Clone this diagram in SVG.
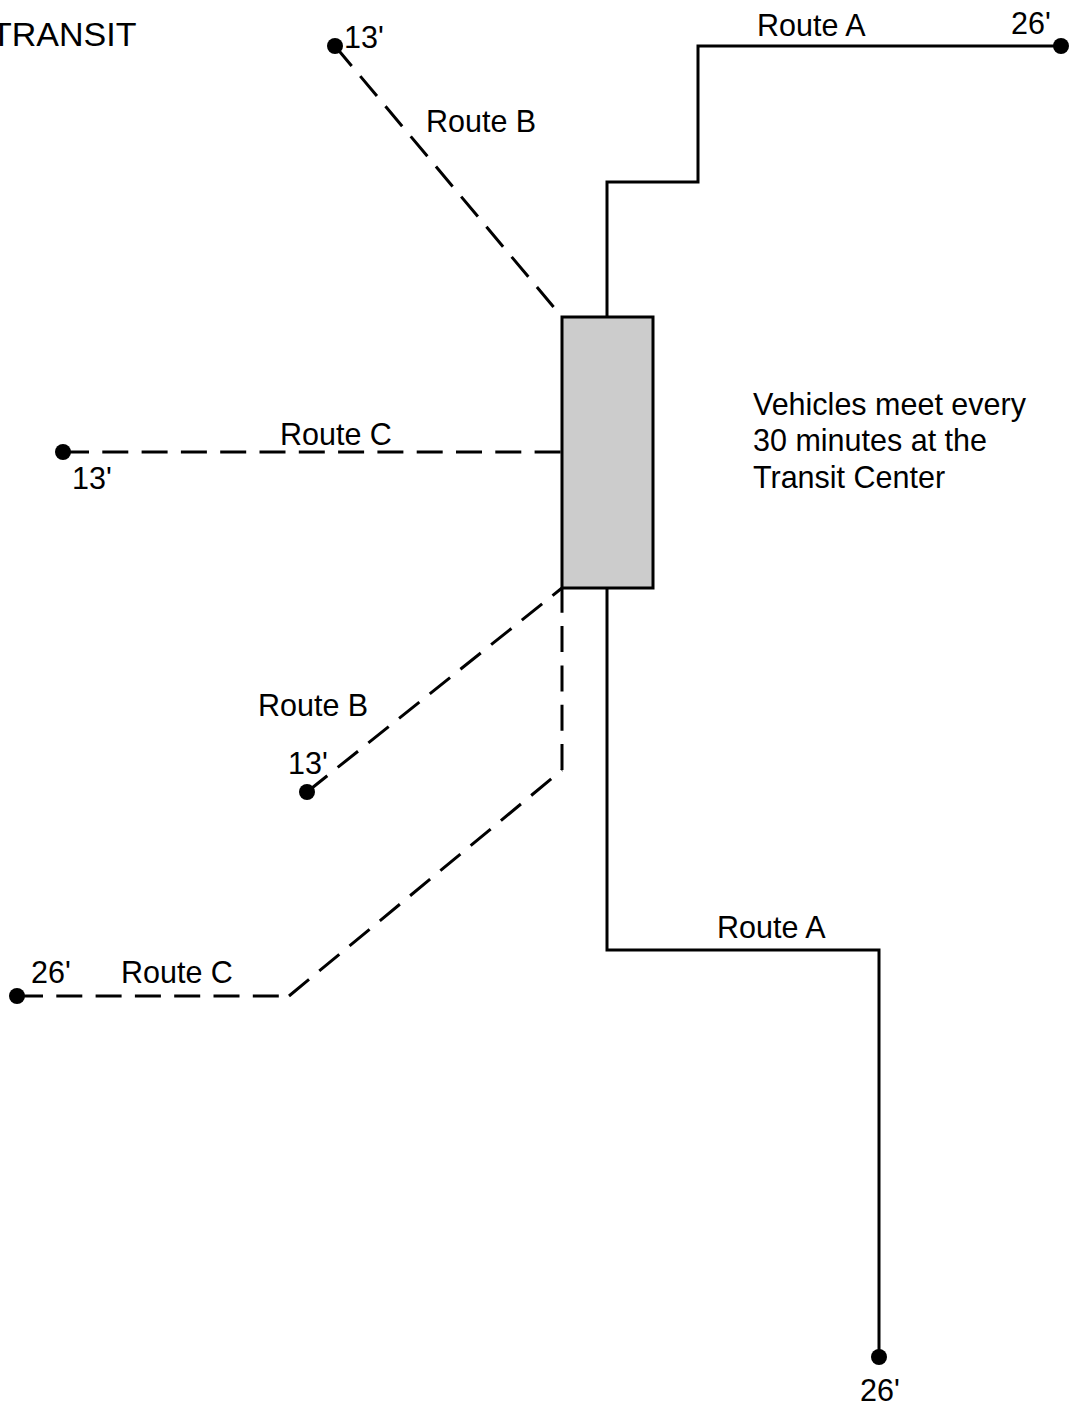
<svg xmlns="http://www.w3.org/2000/svg" width="1076" height="1406" viewBox="0 0 1076 1406">
<style>
.t{font-family:"Liberation Sans",Arial,sans-serif;font-size:30.5px;fill:#000}
.s{fill:none;stroke:#000;stroke-width:3}
.d{fill:none;stroke:#000;stroke-width:3;stroke-dasharray:26 13.3}
.p{fill:#000}
</style>
<rect width="1076" height="1406" fill="#fff"/>
<g id="connectors">
<path class="s" d="M607 317V182H698V46H1061"/>
<path class="s" d="M607 588V950H879V1357"/>
<path class="d" d="M335 46L562 317"/>
<path class="d" d="M63 452H562"/>
<path class="d" d="M307 792L562 588"/>
<path class="d" d="M17 996H289"/>
<path class="d" d="M289 996L562 770"/>
<path class="d" d="M562 770V588"/>
</g>
<g id="transit-center"><rect x="562" y="317" width="91" height="271" fill="#ccc" stroke="#000" stroke-width="3"/></g>
<g id="stop-a-top"><circle class="p" cx="1061" cy="46" r="8"/><text class="t" x="1011" y="34">26'</text></g>
<g id="stop-a-bottom"><circle class="p" cx="879" cy="1357" r="8"/><text class="t" x="860" y="1401">26'</text></g>
<g id="stop-b-top"><circle class="p" cx="335" cy="46" r="8"/><text class="t" x="344" y="48">13'</text></g>
<g id="stop-b-bottom"><circle class="p" cx="307" cy="792" r="8"/><text class="t" x="288" y="774">13'</text></g>
<g id="stop-c-top"><circle class="p" cx="63" cy="452" r="8"/><text class="t" x="72" y="489">13'</text></g>
<g id="stop-c-bottom"><circle class="p" cx="17" cy="996" r="8"/><text class="t" x="31" y="983">26'</text></g>
<g id="labels">
<text class="t" x="-9" y="46" style="font-size:34px">TRANSIT</text>
<text class="t" x="757" y="36">Route A</text>
<text class="t" x="717" y="938">Route A</text>
<text class="t" x="426" y="132">Route B</text>
<text class="t" x="258" y="716">Route B</text>
<text class="t" x="280" y="445">Route C</text>
<text class="t" x="121" y="983">Route C</text>
<text class="t" x="753" y="415">Vehicles meet every</text>
<text class="t" x="753" y="451">30 minutes at the</text>
<text class="t" x="753" y="488">Transit Center</text>
</g>
</svg>
